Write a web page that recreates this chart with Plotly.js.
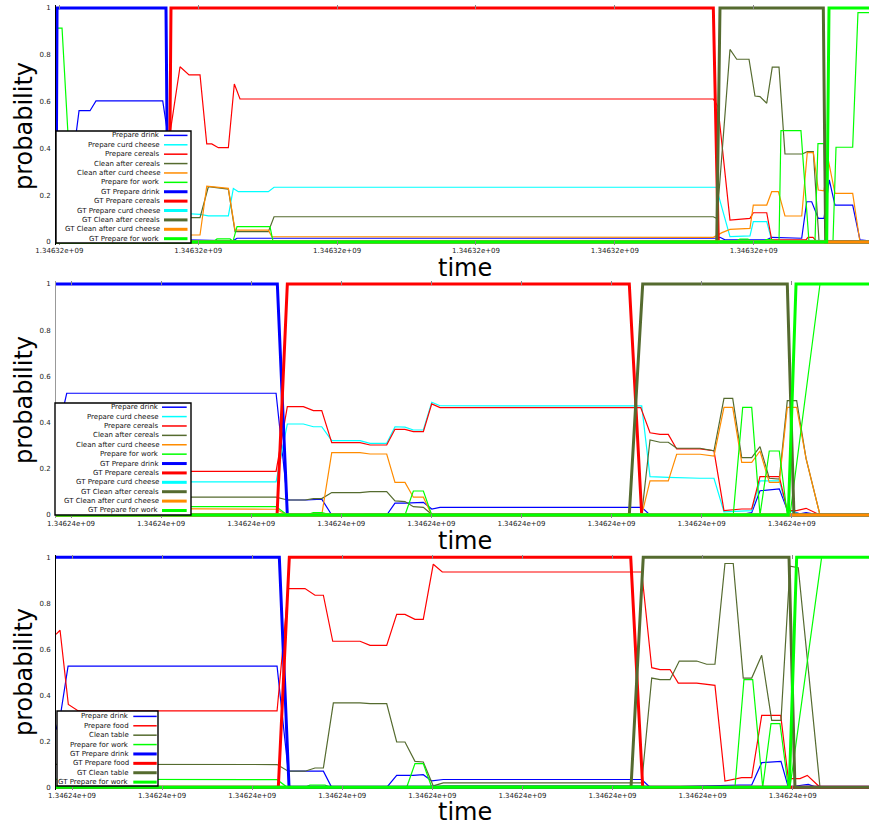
<!DOCTYPE html>
<html><head><meta charset="utf-8">
<script src="https://cdn.plot.ly/plotly-3.0.1.min.js"></script>
<style>html,body{margin:0;padding:0;background:#fff}#chart{width:869px;height:828px}</style>
</head><body><div id="chart"></div>
<script>
// ---------- tick labels ----------
const P1_TICK_VALUES = [0, 20, 40, 60, 80, 100];
const P1_TICK_TEXT = ['1.34632e+09','1.34632e+09','1.34632e+09','1.34632e+09','1.34632e+09','1.34632e+09'];
const P23_TICK_VALUES = [0, 10, 20, 30, 40, 50, 60, 70, 80];
const P2_TICK_TEXT = ['1.34624e+09','1.34624e+09','1.34624e+09','1.34624e+09','1.34624e+09','1.34624e+09','1.34624e+09','1.34624e+09','1.34624e+09'];
const P3_TICK_TEXT = P2_TICK_TEXT.slice();

// ---------- panel 1 (time in s, probability) ----------
const p1_t_drink = [-0.48,1.54,2.84,4.42,5.28,14.89,15.51,16.66,25.01,25.59,92.26,94.42,95.14,95.86,101.87,102.59,106.91,107.63,108.35,109.3,110.12,110.88,111.7,114.25,115.3,116.6];
const p1_p_drink = [0.24,0.26,0.561,0.561,0.603,0.603,0.48,0.01,0.005,0.016,0.016,0.016,0.02,0.009,0.009,0.02,0.016,0.172,0.172,0.101,0.101,0.265,0.158,0.158,0.009,0.005];
const p1_t_curd = [-0.48,15.36,16.23,20.26,21.46,24.34,25.06,25.78,30.1,30.92,94.6,96.58,99.46,99.94,101.87,102.59,116.6];
const p1_p_curd = [0.29,0.29,0.125,0.118,0.112,0.112,0.229,0.215,0.215,0.234,0.234,0.023,0.026,0.087,0.087,0.008,0.005];
const p1_t_cereals = [-0.48,15.36,17.38,18.68,20.26,21.23,21.95,22.9,24.34,25.2,26.02,94.18,94.85,96.58,99.46,99.94,101.87,102.59,107.52,107.81,108.53,108.97,114.15,115.3,116.6];
const p1_p_cereals = [0.35,0.35,0.749,0.714,0.714,0.419,0.419,0.403,0.403,0.675,0.611,0.611,0.578,0.094,0.101,0.125,0.125,0.009,0.009,0.02,0.02,0.006,0.006,0,0];
const p1_t_cleanCereals = [-0.48,20.26,21.46,24.34,25.3,30.1,30.92,94.18,94.71,96.58,97.55,99.32,100.18,100.9,101.87,102.67,103.64,104.5,106.99,107.71,108.58,109.4,116.6];
const p1_p_cleanCereals = [0.104,0.104,0.236,0.226,0.044,0.044,0.108,0.108,0.1,0.823,0.781,0.781,0.624,0.621,0.593,0.747,0.747,0.376,0.376,0.386,0.386,0.005,0];
const p1_t_cleanCurd = [-0.48,20.26,21.23,24.34,25.3,30.1,30.59,94.18,95.43,96.58,99.46,99.94,101.87,102.59,103.54,104.5,106.91,107.71,108.58,109.3,110.12,110.74,111.7,114.25,115.3,116.6];
const p1_p_cleanCurd = [0.03,0.03,0.239,0.229,0.051,0.051,0.023,0.02,0.04,0.054,0.058,0.158,0.158,0.215,0.215,0.111,0.111,0.382,0.382,0.222,0.219,0.35,0.208,0.208,0,0];
const p1_t_work = [-0.48,0.39,2.12,22.13,22.71,24.58,25.01,25.59,30.34,30.77,97.3,98.02,99.17,99.74,101.33,101.76,102.62,103.64,103.92,106.8,107.96,108.82,109.25,110.12,110.41,111.41,111.85,114.25,115.01,116.6];
const p1_p_work = [0.914,0.914,0,0,0.013,0.013,0.003,0.066,0.066,0.003,0.003,0.012,0.012,0,0,0.01,0.01,0,0.476,0.476,0,0,0.42,0.42,0,0,0.405,0.405,0.98,0.98];
const p1_t_gtDrink = [-0.48,-0.33,15.36,15.65,116.6];
const p1_p_gtDrink = [0,1,1,0,0];
const p1_t_gtCereals = [-0.48,15.8,16.08,94.18,94.9,116.6];
const p1_p_gtCereals = [0,0,1,1,0,0];
const p1_t_gtCurd = [-0.48,116.6];
const p1_p_gtCurd = [0,0];
const p1_t_gtCleanCereals = [-0.48,94.67,95.14,110.02,110.36,116.6];
const p1_p_gtCleanCereals = [0,0,1,1,0,0];
const p1_t_gtCleanCurd = [-0.48,116.6];
const p1_p_gtCleanCurd = [0,0];
const p1_t_gtWork = [-0.48,110.51,110.84,116.6];
const p1_p_gtWork = [0,0,1,1];

// ---------- panel 2 ----------
const p2_t_drink = [-1.67,-1.22,-0.48,22.76,24.01,26.16,27.83,28.94,35.04,35.96,37.07,39.11,40.04,40.96,63.35,64.27,74.07,75.56,76.48,78.62,79.51,80.92,81.59,83.14,88.58];
const p2_p_drink = [0.25,0.4,0.527,0.527,0.065,0.065,0.069,0,0,0.051,0.051,0.055,0.026,0.033,0.033,0,0,0.01,0.105,0.113,0.022,0.005,0.01,0,0];
const p2_t_curd = [-1.67,-1.0,22.76,24.01,25.79,26.9,27.83,28.94,32.08,33.19,35.04,35.96,37.07,38.0,39.11,40.04,40.96,63.35,64.27,66.3,69.82,71.37,72.48,75.56,76.48,78.62,79.51,80.92,88.58];
const p2_p_curd = [0.31,0.143,0.143,0.394,0.394,0.382,0.382,0.322,0.322,0.31,0.31,0.382,0.38,0.368,0.368,0.488,0.473,0.472,0.166,0.163,0.159,0.159,0.014,0.019,0.148,0.148,0.022,0.003,0.003];
const p2_t_cereals = [-1.67,-1.0,22.76,24.01,25.79,26.9,27.83,28.94,32.08,33.19,35.04,35.96,37.07,38.0,39.11,40.04,40.96,63.24,64.27,65.38,66.3,67.23,69.82,71.37,72.48,74.45,75.56,76.48,78.62,79.51,80.55,81.59,83.14,88.58];
const p2_p_cereals = [0.354,0.189,0.189,0.469,0.469,0.452,0.452,0.313,0.313,0.303,0.303,0.371,0.371,0.361,0.361,0.481,0.465,0.465,0.356,0.349,0.349,0.286,0.286,0.278,0.019,0.026,0.026,0.166,0.166,0.019,0.019,0.029,0,0];
const p2_t_cleanCereals = [-1.67,-1.0,22.76,24.01,25.97,26.9,27.83,28.94,32.08,33.19,35.04,35.96,37.07,38.0,39.11,40.04,63.35,64.27,65.38,66.3,67.23,69.82,71.37,72.48,73.45,74.45,75.56,76.48,77.51,78.62,79.51,80.55,81.59,83.14,88.58];
const p2_p_cleanCereals = [0.065,0.077,0.077,0.065,0.065,0.071,0.071,0.097,0.097,0.101,0.101,0.061,0.058,0.036,0.033,0.003,0.003,0.325,0.315,0.315,0.289,0.289,0.278,0.505,0.505,0.248,0.248,0.296,0.159,0.155,0.495,0.495,0.245,0,0];
const p2_t_cleanCurd = [-1.67,22.76,24.01,27.83,28.94,32.08,33.19,35.04,35.96,37.07,38.0,39.11,40.04,63.35,64.27,66.3,67.23,69.82,71.37,72.48,73.45,74.45,75.56,76.48,77.51,78.62,79.51,80.55,81.59,83.14,88.58];
const p2_p_cleanCurd = [0.03,0.025,0,0,0.27,0.27,0.264,0.264,0.141,0.141,0.077,0.077,0,0,0.148,0.148,0.263,0.263,0.255,0.466,0.466,0.228,0.228,0.277,0.141,0.141,0.466,0.466,0.245,0,0];
const p2_t_work = [-1.67,22.76,24.01,26.08,26.9,27.83,28.94,32.08,32.75,35.04,37.07,38.0,39.11,40.04,40.96,63.35,64.27,73.51,74.56,75.56,76.48,77.51,78.62,79.51,79.81,83.14,88.58];
const p2_p_work = [0.036,0.036,0,0,0.01,0.01,0,0,0.005,0.005,0,0.104,0.104,0,0.006,0.006,0,0,0.466,0.466,0,0.277,0.277,0,0,1,1];
const p2_t_gtDrink = [-1.67,22.9,24.01,88.58];
const p2_p_gtDrink = [1,1,0,0];
const p2_t_gtCereals = [-1.67,22.87,24.01,61.97,63.35,88.58];
const p2_p_gtCereals = [0,0,1,1,0,0];
const p2_t_gtCurd = [-1.67,88.58];
const p2_p_gtCurd = [0,0];
const p2_t_gtCleanCereals = [-1.67,61.97,63.46,79.51,80.25,88.58];
const p2_p_gtCleanCereals = [0,0,1,1,0,0];
const p2_t_gtCleanCurd = [-1.67,88.58];
const p2_p_gtCleanCurd = [0,0];
const p2_t_gtWork = [-1.67,79.62,80.48,88.58];
const p2_p_gtWork = [0,0,1,1];

// ---------- panel 3 ----------
const p3_t_drink = [-1.78,-1.22,-0.44,22.76,24.0,27.9,28.82,34.93,36.04,37.88,38.99,39.93,41.21,63.24,64.16,74.15,75.45,76.56,78.7,79.51,81.14,81.73,82.66,88.47];
const p3_p_drink = [0.25,0.33,0.527,0.527,0.07,0.07,0,0,0.052,0.052,0.055,0.028,0.034,0.034,0,0.01,0.01,0.107,0.113,0,0.01,0.013,0,0];
const p3_t_food = [-1.78,-1.33,-0.41,0.7,22.76,24.0,25.86,26.97,27.9,28.94,31.97,33.08,34.93,36.04,36.96,38.07,38.99,40.1,41.1,63.24,64.35,65.27,66.38,67.3,69.34,71.37,72.48,74.34,75.45,76.56,78.67,79.51,80.81,81.62,83.03,88.47];
const p3_p_food = [0.665,0.683,0.36,0.332,0.332,0.864,0.864,0.835,0.835,0.635,0.635,0.617,0.617,0.752,0.752,0.73,0.73,0.97,0.936,0.936,0.52,0.512,0.512,0.453,0.453,0.443,0.027,0.042,0.042,0.313,0.313,0.038,0.038,0.052,0,0];
const p3_t_clean = [-1.78,22.76,24.0,25.86,26.97,27.9,29.01,31.97,33.08,34.93,36.04,36.96,38.07,38.99,40.1,41.21,63.24,64.35,65.27,66.38,67.41,69.34,70.45,71.37,72.48,73.4,74.51,75.45,76.56,77.67,78.7,79.7,80.62,83.03,88.47];
const p3_p_clean = [0.1,0.099,0.07,0.07,0.084,0.084,0.367,0.367,0.364,0.364,0.197,0.197,0.113,0.11,0.006,0.019,0.019,0.475,0.468,0.468,0.549,0.549,0.535,0.535,0.973,0.973,0.475,0.475,0.574,0.291,0.291,0.961,0.955,0,0];
const p3_t_work = [-1.78,22.76,23.9,25.86,26.42,28.08,28.64,32.71,34.93,37.15,38.07,38.99,39.93,41.21,63.24,64.16,73.59,74.59,75.56,76.67,77.59,78.59,79.51,79.7,83.21,88.47];
const p3_p_work = [0.035,0.033,0,0,0.01,0.01,0,0,0,0,0.103,0.103,0,0.006,0.006,0,0,0.468,0.468,0,0.277,0.277,0,0,1,1];
const p3_t_gtDrink = [-1.78,23.01,24.09,88.47];
const p3_p_gtDrink = [1,1,0,0];
const p3_t_gtFood = [-1.78,22.9,24.12,62.02,63.35,88.47];
const p3_p_gtFood = [0,0,1,1,0,0];
const p3_t_gtClean = [-1.78,62.05,63.41,79.59,80.25,88.47];
const p3_p_gtClean = [0,0,1,1,0,0];
const p3_t_gtWork = [-1.78,79.62,80.44,88.47];
const p3_p_gtWork = [0,0,1,1];

// ---------- series lists (legend / draw order) ----------
const BLUE='#0000ff', CYAN='#00ffff', RED='#ff0000', OLIVE='#556b2f', ORANGE='#ff8c00', GREEN='#00ff00';
const panel1Series = [
  ['Prepare drink', p1_t_drink, p1_p_drink, BLUE, false],
  ['Prepare curd cheese', p1_t_curd, p1_p_curd, CYAN, false],
  ['Prepare cereals', p1_t_cereals, p1_p_cereals, RED, false],
  ['Clean after cereals', p1_t_cleanCereals, p1_p_cleanCereals, OLIVE, false],
  ['Clean after curd cheese', p1_t_cleanCurd, p1_p_cleanCurd, ORANGE, false],
  ['Prepare for work', p1_t_work, p1_p_work, GREEN, false],
  ['GT Prepare drink', p1_t_gtDrink, p1_p_gtDrink, BLUE, true],
  ['GT Prepare cereals', p1_t_gtCereals, p1_p_gtCereals, RED, true],
  ['GT Prepare curd cheese', p1_t_gtCurd, p1_p_gtCurd, CYAN, true],
  ['GT Clean after cereals', p1_t_gtCleanCereals, p1_p_gtCleanCereals, OLIVE, true],
  ['GT Clean after curd cheese', p1_t_gtCleanCurd, p1_p_gtCleanCurd, ORANGE, true],
  ['GT Prepare for work', p1_t_gtWork, p1_p_gtWork, GREEN, true]
];
const panel2Series = [
  ['Prepare drink', p2_t_drink, p2_p_drink, BLUE, false],
  ['Prepare curd cheese', p2_t_curd, p2_p_curd, CYAN, false],
  ['Prepare cereals', p2_t_cereals, p2_p_cereals, RED, false],
  ['Clean after cereals', p2_t_cleanCereals, p2_p_cleanCereals, OLIVE, false],
  ['Clean after curd cheese', p2_t_cleanCurd, p2_p_cleanCurd, ORANGE, false],
  ['Prepare for work', p2_t_work, p2_p_work, GREEN, false],
  ['GT Prepare drink', p2_t_gtDrink, p2_p_gtDrink, BLUE, true],
  ['GT Prepare cereals', p2_t_gtCereals, p2_p_gtCereals, RED, true],
  ['GT Prepare curd cheese', p2_t_gtCurd, p2_p_gtCurd, CYAN, true],
  ['GT Clean after cereals', p2_t_gtCleanCereals, p2_p_gtCleanCereals, OLIVE, true],
  ['GT Clean after curd cheese', p2_t_gtCleanCurd, p2_p_gtCleanCurd, ORANGE, true],
  ['GT Prepare for work', p2_t_gtWork, p2_p_gtWork, GREEN, true]
];
const panel3Series = [
  ['Prepare drink', p3_t_drink, p3_p_drink, BLUE, false],
  ['Prepare food', p3_t_food, p3_p_food, RED, false],
  ['Clean table', p3_t_clean, p3_p_clean, OLIVE, false],
  ['Prepare for work', p3_t_work, p3_p_work, GREEN, false],
  ['GT Prepare drink', p3_t_gtDrink, p3_p_gtDrink, BLUE, true],
  ['GT Prepare food', p3_t_gtFood, p3_p_gtFood, RED, true],
  ['GT Clean table', p3_t_gtClean, p3_p_gtClean, OLIVE, true],
  ['GT Prepare for work', p3_t_gtWork, p3_p_gtWork, GREEN, true]
];

// ---------- layout geometry (pixels of the 869x828 page) ----------
const W = 869, H = 828;
const THIN = 1.2, THICK = 3;
const panels = [
  {series: panel1Series, top: 8, bottom: 242, range: [-0.48, 116.6], tv: P1_TICK_VALUES, tt: P1_TICK_TEXT,
   leg: {x0: 56, y0: 131, x1: 191, y1: 243, row0: 135.4, dy: 9.39, textRight: 161, s0: 164, s1: 187.5},
   timeY: 268, probY: 126, axisColor: '#000'},
  {series: panel2Series, top: 284, bottom: 515, range: [-1.67, 88.58], tv: P23_TICK_VALUES, tt: P2_TICK_TEXT,
   leg: {x0: 55, y0: 403, x1: 191, y1: 515, row0: 407.2, dy: 9.39, textRight: 160, s0: 162, s1: 186.7},
   timeY: 541, probY: 400, axisColor: '#999'},
  {series: panel3Series, top: 557.3, bottom: 787.3, range: [-1.78, 88.47], tv: P23_TICK_VALUES, tt: P3_TICK_TEXT,
   leg: {x0: 57, y0: 711, x1: 158, y1: 786, row0: 716.4, dy: 9.39, textRight: 130, s0: 133.3, s1: 156.7},
   timeY: 812, probY: 672, axisColor: '#000'}
];

const FONT = 'DejaVu Sans, Verdana, sans-serif';
const traces = [], shapes = [], annotations = [];
const layout = {
  width: W, height: H, margin: {l: 0, r: 0, t: 0, b: 0},
  paper_bgcolor: '#fff', plot_bgcolor: '#fff', showlegend: false,
  font: {family: FONT, size: 7, color: '#222'}
};
const PAD = 0.012;
panels.forEach((pn, i) => {
  const k = i === 0 ? '' : String(i + 1);
  const span = pn.bottom - pn.top;
  const domTop = pn.top - PAD * span, domBot = pn.bottom + PAD * span;
  layout['xaxis' + k] = {
    domain: [56 / W, 1], range: pn.range, anchor: 'y' + k,
    tickmode: 'array', tickvals: pn.tv, ticktext: pn.tt,
    ticks: 'inside', ticklen: 4, tickcolor: '#888', tickwidth: 1, mirror: 'ticks',
    showline: false, showgrid: false, zeroline: false,
    tickfont: {family: FONT, size: 7, color: '#222'}
  };
  layout['yaxis' + k] = {
    domain: [1 - domBot / H, 1 - domTop / H], range: [-PAD, 1 + PAD], anchor: 'x' + k,
    tickmode: 'linear', tick0: 0, dtick: 0.2, ticks: '', showgrid: false, zeroline: false,
    showline: true, linecolor: pn.axisColor, linewidth: 1, ticklabelstandoff: 3,
    tickfont: {family: FONT, size: 7, color: '#222'}
  };
  pn.series.forEach(s => {
    traces.push({type: 'scatter', mode: 'lines', name: s[0], x: s[1], y: s[2],
      xaxis: 'x' + k, yaxis: 'y' + k,
      line: {color: s[3], width: s[4] ? THICK : THIN, simplify: false}, hoverinfo: 'skip'});
  });
  // legend box
  const L = pn.leg;
  shapes.push({type: 'rect', xref: 'paper', yref: 'paper', layer: 'above',
    x0: L.x0 / W, x1: L.x1 / W, y0: 1 - L.y1 / H, y1: 1 - L.y0 / H,
    fillcolor: '#fff', line: {color: '#000', width: 1.4}});
  pn.series.forEach((s, j) => {
    const yy = 1 - (L.row0 + j * L.dy) / H;
    shapes.push({type: 'line', xref: 'paper', yref: 'paper', layer: 'above',
      x0: L.s0 / W, x1: L.s1 / W, y0: yy, y1: yy,
      line: {color: s[3], width: s[4] ? THICK : 1.5}});
    annotations.push({xref: 'paper', yref: 'paper', x: L.textRight / W, y: yy,
      xanchor: 'right', yanchor: 'middle', showarrow: false, text: s[0], borderpad: 0,
      font: {family: FONT, size: 7, color: '#111'}});
  });
  annotations.push({xref: 'paper', yref: 'paper', x: 465 / W, y: 1 - pn.timeY / H,
    xanchor: 'center', yanchor: 'middle', showarrow: false, text: 'time',
    font: {family: FONT, size: 24, color: '#000'}});
  annotations.push({xref: 'paper', yref: 'paper', x: 24 / W, y: 1 - pn.probY / H,
    xanchor: 'center', yanchor: 'middle', showarrow: false, text: 'probability', textangle: -90,
    font: {family: FONT, size: 24, color: '#000'}});
});
layout.shapes = shapes;
layout.annotations = annotations;
Plotly.newPlot('chart', traces, layout, {staticPlot: true, displayModeBar: false});
</script>
</body></html>
